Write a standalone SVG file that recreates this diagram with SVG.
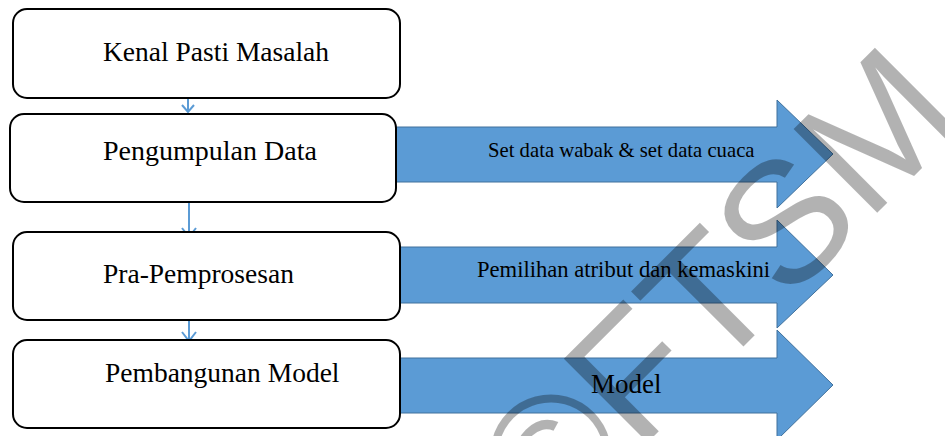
<svg xmlns="http://www.w3.org/2000/svg" width="945" height="436" viewBox="0 0 945 436">
<defs>
<style>
.box{fill:#fff;stroke:#000;stroke-width:2}
.lbl{font-family:"Liberation Serif","Times New Roman",serif;fill:#000}
.big{fill:#5b9bd5;stroke:#41719c;stroke-width:1}
.lnk{fill:none;stroke:#5b9bd5;stroke-width:2}
.wm{font-family:"Liberation Sans",Arial,sans-serif;font-size:172px;fill:#000;fill-opacity:0.3}
</style>
</defs>
<rect width="945" height="436" fill="#fff"/>
<g id="connectors">
<path class="big" d="M396,127 H777 V100 L833,154 L777,208 V182 H396 Z"/>
<path class="big" d="M400,247 H777 V220 L833,275 L777,328 V303 H400 Z"/>
<path class="big" d="M400,358 H777 V330 L833,385 L777,440 V413 H400 Z"/>
<path class="lnk" d="M188,98 V112 M182,105 L188,112 L194,105"/>
<path class="lnk" d="M189,201 V237 M182,228 L189,237 L196,228"/>
<path class="lnk" d="M189,320 V341 M182,332 L189,341 L196,332"/>
</g>
<g id="n1"><rect class="box" x="13" y="9" width="387" height="89" rx="14"/><text class="lbl" x="103" y="61" font-size="27.5">Kenal Pasti Masalah</text></g>
<g id="n2"><rect class="box" x="10" y="114" width="386" height="88" rx="14"/><text class="lbl" x="103" y="160" font-size="28">Pengumpulan Data</text></g>
<g id="n3"><rect class="box" x="13" y="232" width="387" height="88" rx="14"/><text class="lbl" x="103" y="283" font-size="27.5">Pra-Pemprosesan</text></g>
<g id="n4"><rect class="box" x="13" y="340" width="387" height="88" rx="14"/><text class="lbl" x="105" y="382" font-size="27.5">Pembangunan Model</text></g>
<g id="labels">
<text class="lbl" x="488" y="157" font-size="20.7">Set data wabak &amp; set data cuaca</text>
<text class="lbl" x="477" y="277" font-size="22.6">Pemilihan atribut dan kemaskini</text>
<text class="lbl" x="591" y="393" font-size="27">Model</text>
</g>
<text class="wm" transform="translate(548,542) rotate(-45)">©FTSM</text>
</svg>
